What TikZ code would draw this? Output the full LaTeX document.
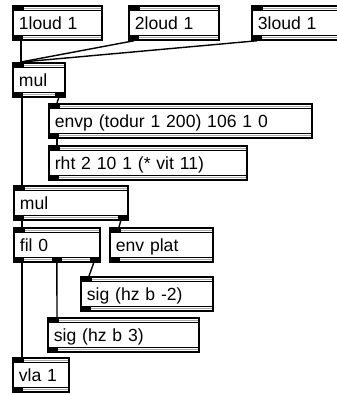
\documentclass[tikz,border=0pt]{standalone}
\usepackage{fontspec}
\setmainfont{Liberation Sans}
\usetikzlibrary{calc}
\definecolor{pwgray}{RGB}{170,170,170}
\newlength{\pwu}\setlength{\pwu}{0.03cm}
\newcommand{\pwfont}{\fontsize{15}{17}\selectfont}
\tikzset{
  outlets/.store in=\pwout, outlets=1,
  pwbox/.style={draw, line width=1.5pt, anchor=north west, inner sep=0pt,
    minimum width=#1*\pwu, text width=(#1-12)*\pwu, minimum height=34*\pwu,
    text height=14*\pwu, text depth=0pt, align=left, font=\pwfont,
    path picture={
      \coordinate (pnw) at (path picture bounding box.north west);
      \coordinate (pne) at (path picture bounding box.north east);
      \coordinate (psw) at (path picture bounding box.south west);
      \coordinate (pse) at (path picture bounding box.south east);
      % top band, inlet at left
      \draw[pwgray, line width=0.8pt] ($(pnw)+(0,2.5)$) -- ($(pne)+(0,2.5)$);
      \draw[line width=0.7pt] ($(pnw)+(0,4.8)$) -- ($(pne)+(0,4.8)$);
      \fill (pnw) rectangle ($(pnw)+(11,4.8)$);
      % bottom band, outlets
      \draw[pwgray, line width=0.8pt] ($(psw)+(0,-2.5)$) -- ($(pse)+(0,-2.5)$);
      \draw[line width=0.7pt] ($(psw)+(0,-4.8)$) -- ($(pse)+(0,-4.8)$);
      \foreach \k in {1,...,\pwout}{
        \pgfmathsetmacro{\pwf}{(\k-1)/max(\pwout-1,1)}
        \fill ($(psw)!\pwf!(pse)+(-\pwf*10,0)$) rectangle ++(10,-4.8);
      }
    }},
  wire/.style={line width=1.2pt},
}

\begin{document}
\begin{tikzpicture}[x=0.03cm, y=-0.03cm]
  \useasboundingbox (0,0) rectangle (336,395);

  % loudness boxes
  \node[pwbox=89] (loudA) at (12,5) {1loud 1};
  \node[pwbox=90] (loudB) at (128,5) {2loud 1};
  \node[pwbox=92] (loudC) at (251,5) {3loud 1};

  % first product and envelope
  \node[pwbox=52, outlets=2] (mulA) at (12,62) {mul};
  \node[pwbox=263] (envp) at (48,103) {envp (todur 1 200) 106 1 0};
  \node[pwbox=198] (rht) at (48,145) {rht 2 10 1 (* vit 11)};

  % second product, filter
  \node[pwbox=114, outlets=2] (mulB) at (13,185) {mul};
  \node[pwbox=86, outlets=3] (fil) at (13,227) {fil 0};
  \node[pwbox=103] (envplat) at (109,227) {env plat};
  \node[pwbox=132] (sigA) at (80,276) {sig (hz b -2)};
  \node[pwbox=151] (sigB) at (47,317) {sig (hz b 3)};
  \node[pwbox=56] (vla) at (12,357) {vla 1};

  % wires
  \draw[wire] ($(loudA.south west)+(9,0)$) -- ($(mulA.north west)+(9,0)$);
  \draw[wire] ($(loudB.south west)+(6,0)$) -- ($(mulA.north west)+(9,0)$);
  \draw[wire] ($(loudC.south west)+(6,0)$) -- ($(mulA.north west)+(10,0)$);
  \draw[wire] ($(mulA.south west)+(10,0)$) -- ($(mulB.north west)+(9,0)$);
  \draw[wire] ($(mulA.south east)+(-7,0)$) -- ($(envp.north west)+(9,0)$);
  \draw[wire] ($(envp.south west)+(9,0)$) -- ($(rht.north west)+(9,0)$);
  \draw[wire] ($(mulB.south west)+(9,0)$) -- ($(fil.north west)+(9,0)$);
  \draw[wire] ($(mulB.south east)+(-8,0)$) -- ($(envplat.north west)+(10,0)$);
  \draw[wire] ($(fil.south west)+(9,0)$) -- ($(vla.north west)+(10,0)$);
  \draw[wire] (fil.south) -- ($(sigB.north west)+(10,0)$);
  \draw[wire] ($(fil.south east)+(-7,0)$) -- ($(sigA.north west)+(9,0)$);
\end{tikzpicture}
\end{document}
